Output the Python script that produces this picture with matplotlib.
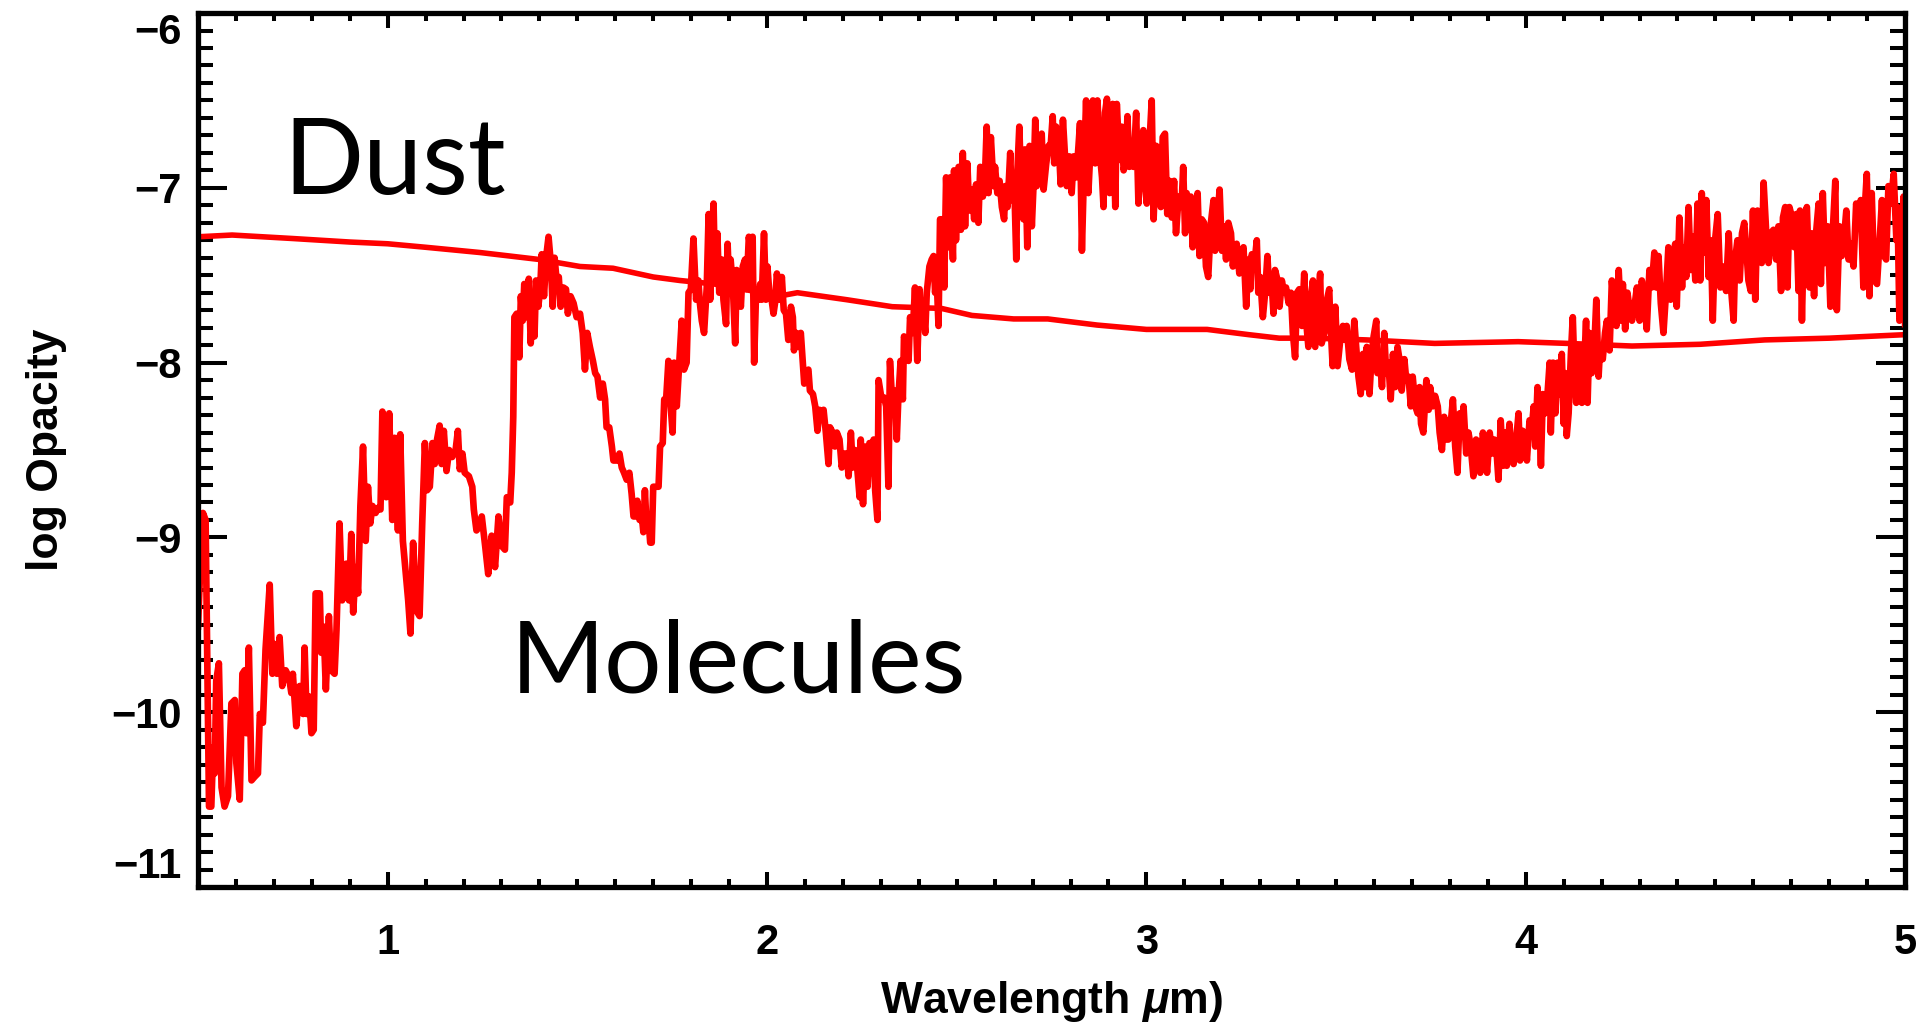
import numpy as np
import matplotlib.pyplot as plt
from matplotlib.ticker import MultipleLocator

# Dust opacity (smooth curve)
dust_wave = [0.50, 0.59, 0.75, 0.90, 1.00, 1.10, 1.243, 1.40, 1.507, 1.594, 1.70, 1.77,
             1.86, 1.95, 2.03, 2.08, 2.21, 2.33, 2.46, 2.54, 2.65, 2.74, 2.87, 3.00,
             3.16, 3.27, 3.35, 3.44, 3.58, 3.76, 3.98, 4.11, 4.28, 4.46, 4.63, 4.80, 5.00]
dust_logk = [-7.28, -7.27, -7.29, -7.31, -7.32, -7.34, -7.37, -7.41, -7.45, -7.46, -7.51, -7.53,
             -7.55, -7.585, -7.62, -7.60, -7.64, -7.68, -7.69, -7.73, -7.75, -7.75, -7.785, -7.81,
             -7.81, -7.84, -7.86, -7.86, -7.87, -7.89, -7.88, -7.89, -7.905, -7.895, -7.87, -7.86, -7.84]

# Molecular opacity (noisy spectrum)
mol_wave = [
    0.500, 0.509, 0.513, 0.520, 0.526, 0.529, 0.535, 0.540, 0.544, 0.548,
    0.555, 0.562, 0.570, 0.579, 0.588, 0.597, 0.601, 0.610, 0.617, 0.623,
    0.627, 0.634, 0.641, 0.649, 0.658, 0.663, 0.671, 0.678, 0.689, 0.696,
    0.702, 0.708, 0.715, 0.722, 0.731, 0.740, 0.746, 0.750, 0.759, 0.768,
    0.777, 0.781, 0.786, 0.793, 0.799, 0.805, 0.810, 0.821, 0.825, 0.831,
    0.837, 0.845, 0.851, 0.860, 0.865, 0.873, 0.880, 0.891, 0.898, 0.904,
    0.909, 0.916, 0.922, 0.928, 0.935, 0.942, 0.948, 0.954, 0.960, 0.968,
    0.975, 0.981, 0.986, 0.996, 1.004, 1.012, 1.018, 1.027, 1.033, 1.040,
    1.047, 1.054, 1.060, 1.067, 1.076, 1.084, 1.091, 1.098, 1.104, 1.111,
    1.118, 1.124, 1.130, 1.137, 1.142, 1.148, 1.155, 1.162, 1.170, 1.179,
    1.185, 1.190, 1.197, 1.203, 1.214, 1.223, 1.227, 1.234, 1.241,
    1.248, 1.257, 1.265, 1.274, 1.283, 1.292, 1.301, 1.309, 1.314, 1.323,
    1.327, 1.331, 1.334, 1.340, 1.347, 1.351, 1.356, 1.360, 1.367, 1.372,
    1.377, 1.382, 1.387, 1.391, 1.397, 1.402, 1.406, 1.412, 1.418, 1.424,
    1.430, 1.435, 1.440, 1.446, 1.451, 1.456, 1.463, 1.470, 1.475, 1.482,
    1.490, 1.498, 1.507, 1.514, 1.520, 1.526, 1.533, 1.541, 1.547, 1.553,
    1.560, 1.567, 1.573, 1.577, 1.584, 1.591, 1.595, 1.604, 1.611, 1.617,
    1.623, 1.630, 1.637, 1.643, 1.648, 1.655, 1.658, 1.664, 1.670, 1.674,
    1.678, 1.683, 1.687, 1.692, 1.696, 1.700, 1.707, 1.714, 1.718, 1.725,
    1.729, 1.734, 1.740, 1.746, 1.751, 1.755, 1.762, 1.769, 1.775, 1.781,
    1.788, 1.793, 1.799, 1.806, 1.813, 1.819, 1.823, 1.828, 1.834, 1.841,
    1.846, 1.850, 1.854, 1.859, 1.863, 1.869, 1.874, 1.881, 1.885, 1.892,
    1.896, 1.901, 1.904, 1.910, 1.916, 1.920, 1.925, 1.931, 1.936, 1.942,
    1.946, 1.952, 1.957, 1.962, 1.966, 1.971, 1.977, 1.982, 1.986, 1.992,
    1.997, 2.001, 2.006, 2.012, 2.017, 2.021, 2.026, 2.033, 2.039, 2.044,
    2.050, 2.056, 2.063, 2.068, 2.071, 2.077, 2.083, 2.089, 2.094, 2.098,
    2.103, 2.109, 2.113, 2.121, 2.127, 2.133, 2.138, 2.144, 2.149, 2.155,
    2.162, 2.166, 2.173, 2.179, 2.184, 2.191, 2.197, 2.203, 2.210, 2.215,
    2.221, 2.226, 2.232, 2.238, 2.244, 2.247, 2.253, 2.259, 2.265, 2.270,
    2.276, 2.281, 2.285, 2.291, 2.294, 2.302, 2.309, 2.314, 2.320, 2.324,
    2.331, 2.337, 2.342, 2.346, 2.352, 2.358, 2.361, 2.368, 2.373, 2.377,
    2.384, 2.390, 2.396, 2.402, 2.405, 2.410, 2.417, 2.421, 2.428,
    2.434, 2.439, 2.443, 2.447, 2.452, 2.456, 2.463, 2.467, 2.472, 2.478,
    2.483, 2.490, 2.493, 2.498, 2.505, 2.511, 2.516, 2.522, 2.528, 2.533,
    2.540, 2.546, 2.551, 2.557, 2.562, 2.569, 2.575, 2.579, 2.584, 2.590,
    2.597, 2.601, 2.607, 2.613, 2.619, 2.625, 2.628, 2.634, 2.641, 2.645,
    2.651, 2.657, 2.660, 2.665, 2.671, 2.676, 2.680, 2.686, 2.692, 2.698,
    2.702, 2.707, 2.711, 2.718, 2.724, 2.729, 2.736, 2.742, 2.748, 2.753,
    2.757, 2.762, 2.768, 2.774, 2.780, 2.786, 2.790, 2.797, 2.803, 2.808,
    2.815, 2.821, 2.825, 2.830, 2.836, 2.841, 2.847, 2.854, 2.859, 2.865,
    2.871, 2.878, 2.883, 2.887, 2.891, 2.896, 2.903, 2.906, 2.911, 2.918,
    2.922, 2.929, 2.935, 2.940, 2.946, 2.950, 2.955, 2.961, 2.966, 2.973,
    2.979, 2.985, 2.992, 2.997, 3.001, 3.008, 3.014, 3.019, 3.026, 3.032,
    3.038, 3.043, 3.049, 3.055, 3.061, 3.067, 3.073, 3.078, 3.085, 3.089,
    3.093, 3.097, 3.102, 3.106, 3.111, 3.117, 3.122, 3.128, 3.135, 3.140,
    3.146, 3.152, 3.157, 3.163, 3.170, 3.177, 3.181, 3.187, 3.193, 3.199,
    3.203, 3.210, 3.216, 3.223, 3.228, 3.234, 3.238, 3.245, 3.249, 3.256,
    3.263, 3.269, 3.274, 3.278, 3.284, 3.291, 3.295, 3.300, 3.307, 3.313,
    3.319, 3.324, 3.331, 3.335, 3.339, 3.346, 3.351, 3.357, 3.363, 3.368,
    3.375, 3.381, 3.386, 3.392, 3.397, 3.403, 3.410, 3.416, 3.421, 3.427,
    3.433, 3.439, 3.445, 3.451, 3.458, 3.462, 3.469, 3.476, 3.482,
    3.484, 3.491, 3.498, 3.504, 3.511, 3.518, 3.524, 3.528, 3.535, 3.542,
    3.548, 3.553, 3.559, 3.565, 3.571, 3.577, 3.581, 3.588, 3.594, 3.599,
    3.606, 3.609, 3.615, 3.621, 3.627, 3.632, 3.638, 3.644, 3.650, 3.656,
    3.662, 3.667, 3.673, 3.680, 3.685, 3.691, 3.697, 3.702, 3.709, 3.715,
    3.720, 3.724, 3.730, 3.738, 3.744, 3.748, 3.755, 3.761, 3.768, 3.773,
    3.779, 3.785, 3.790, 3.796, 3.803, 3.808, 3.814, 3.820, 3.826, 3.832,
    3.836, 3.843, 3.849, 3.855, 3.862, 3.869, 3.876, 3.880, 3.887, 3.893,
    3.898, 3.905, 3.911, 3.917, 3.924, 3.928, 3.934, 3.940, 3.946, 3.950,
    3.957, 3.963, 3.968, 3.975, 3.981, 3.985, 3.992, 3.999, 4.003, 4.010,
    4.016, 4.021, 4.025, 4.031, 4.037, 4.040, 4.045, 4.051, 4.057, 4.063,
    4.066, 4.072, 4.078, 4.084, 4.089, 4.095, 4.100, 4.104, 4.108, 4.113,
    4.119, 4.124, 4.128, 4.133, 4.139, 4.144, 4.148, 4.154, 4.159, 4.163,
    4.168, 4.174, 4.180, 4.186, 4.192, 4.196, 4.203, 4.209, 4.214, 4.221,
    4.227, 4.233, 4.239, 4.245, 4.251, 4.256, 4.262, 4.268, 4.273, 4.280,
    4.284, 4.293, 4.300, 4.306, 4.312, 4.319, 4.326, 4.332, 4.339, 4.344,
    4.350, 4.356, 4.363, 4.370, 4.376, 4.382, 4.388, 4.394, 4.398, 4.405,
    4.412, 4.416, 4.423, 4.429, 4.435, 4.441, 4.447, 4.453, 4.458,
    4.460, 4.464, 4.470, 4.476, 4.482, 4.488, 4.493, 4.499, 4.506, 4.513,
    4.517, 4.521, 4.528, 4.535, 4.541, 4.548, 4.552, 4.558, 4.564, 4.570,
    4.576, 4.581, 4.587, 4.593, 4.599, 4.605, 4.611, 4.618, 4.622, 4.627,
    4.634, 4.640, 4.646, 4.653, 4.660, 4.666, 4.673, 4.678, 4.684, 4.690,
    4.695, 4.702, 4.708, 4.713, 4.719, 4.723, 4.728, 4.734, 4.741, 4.748,
    4.754, 4.760, 4.766, 4.772, 4.778, 4.783, 4.789, 4.796, 4.803, 4.810,
    4.816, 4.820, 4.827, 4.833, 4.840, 4.845, 4.851, 4.857, 4.864, 4.871,
    4.877, 4.883, 4.890, 4.895, 4.899, 4.906, 4.912, 4.919, 4.926, 4.933,
    4.939, 4.945, 4.950, 4.956, 4.962, 4.970, 4.977, 4.980, 4.985, 4.992,
    4.996, 5.000,
]
mol_logk = [
    -9.51, -9.00, -8.86, -8.90, -10.01, -10.54, -10.54, -10.20, -10.35, -9.82,
    -9.72, -10.43, -10.54, -10.48, -9.95, -9.93, -10.29, -10.50, -9.78, -9.76,
    -10.12, -9.63, -10.39, -10.37, -10.35, -10.01, -10.06, -9.64, -9.27, -9.78,
    -9.61, -9.78, -9.57, -9.85, -9.76, -9.80, -9.89, -9.78, -10.08, -9.85,
    -10.01, -9.63, -10.01, -9.91, -10.12, -10.10, -9.32, -9.32, -9.66, -9.51,
    -9.87, -9.45, -9.76, -9.78, -9.53, -8.92, -9.36, -9.15, -9.36, -8.98,
    -9.43, -9.17, -9.32, -8.82, -8.48, -9.02, -8.71, -8.92, -8.82, -8.86,
    -8.83, -8.84, -8.28, -8.77, -8.29, -8.90, -8.43, -8.96, -8.41, -9.02,
    -9.19, -9.36, -9.55, -9.03, -9.42, -9.45, -8.92, -8.46, -8.73, -8.71,
    -8.46, -8.58, -8.44, -8.36, -8.58, -8.39, -8.62, -8.50, -8.54, -8.50,
    -8.39, -8.61, -8.52, -8.63, -8.65, -8.71, -8.84, -8.96, -8.94,
    -8.88, -9.05, -9.21, -8.99, -9.17, -8.88, -9.05, -9.07, -8.77, -8.80,
    -8.63, -8.31, -7.74, -7.72, -7.97, -7.62, -7.76, -7.55, -7.74, -7.52,
    -7.89, -7.70, -7.85, -7.53, -7.68, -7.58, -7.38, -7.62, -7.39, -7.28,
    -7.43, -7.68, -7.40, -7.55, -7.51, -7.68, -7.57, -7.58, -7.72, -7.62,
    -7.66, -7.74, -7.72, -7.83, -8.04, -7.83, -7.91, -7.99, -8.06, -8.08,
    -8.20, -8.12, -8.21, -8.37, -8.37, -8.48, -8.56, -8.56, -8.52, -8.60,
    -8.63, -8.67, -8.63, -8.75, -8.88, -8.88, -8.79, -8.90, -8.88, -8.97,
    -8.73, -8.96, -8.88, -9.03, -9.03, -8.71, -8.71, -8.71, -8.48, -8.46,
    -8.21, -8.21, -7.99, -8.25, -8.40, -8.00, -8.25, -7.99, -7.76, -8.04,
    -8.00, -7.60, -7.58, -7.29, -7.64, -7.53, -7.66, -7.76, -7.83, -7.57,
    -7.15, -7.64, -7.30, -7.09, -7.53, -7.26, -7.60, -7.41, -7.64, -7.78,
    -7.32, -7.60, -7.41, -7.57, -7.89, -7.47, -7.60, -7.68, -7.45, -7.41,
    -7.58, -7.28, -7.36, -7.28, -8.00, -7.60, -7.64, -7.55, -7.64, -7.26,
    -7.64, -7.45, -7.60, -7.64, -7.72, -7.66, -7.49, -7.64, -7.51, -7.70,
    -7.72, -7.87, -7.68, -7.74, -7.93, -7.83, -7.91, -7.83, -7.99, -8.12,
    -8.06, -8.04, -8.16, -8.18, -8.25, -8.39, -8.27, -8.31, -8.27, -8.40,
    -8.58, -8.37, -8.40, -8.48, -8.40, -8.44, -8.60, -8.52, -8.52, -8.65,
    -8.40, -8.60, -8.50, -8.61, -8.77, -8.44, -8.81, -8.48, -8.71, -8.46,
    -8.63, -8.44, -8.73, -8.90, -8.10, -8.21, -8.20, -8.25, -8.71, -7.99,
    -8.27, -8.16, -8.44, -8.21, -7.99, -8.21, -7.85, -7.91, -7.99, -7.74,
    -7.83, -7.57, -7.99, -7.58, -7.74, -7.66, -7.83, -7.60, -7.45,
    -7.41, -7.39, -7.60, -7.51, -7.79, -7.18, -7.18, -7.57, -6.94, -7.34,
    -6.94, -7.41, -6.90, -7.30, -6.88, -7.24, -6.80, -7.22, -6.86, -7.13,
    -7.01, -7.18, -6.98, -7.20, -6.88, -7.05, -6.90, -6.65, -7.03, -6.71,
    -6.99, -6.88, -7.03, -6.96, -7.11, -7.18, -6.99, -7.11, -6.80, -7.07,
    -6.92, -7.41, -6.90, -6.65, -7.07, -7.18, -6.78, -7.34, -6.76, -7.22,
    -7.01, -6.61, -6.99, -6.92, -6.69, -7.01, -6.86, -6.76, -6.75, -6.59,
    -6.86, -6.65, -6.71, -6.98, -6.61, -6.84, -6.99, -6.82, -7.03, -6.82,
    -6.94, -6.76, -6.63, -7.36, -6.86, -6.50, -7.03, -6.71, -6.50, -6.86,
    -6.50, -6.82, -6.94, -7.11, -6.57, -6.49, -7.03, -6.78, -6.52, -7.11,
    -6.52, -6.84, -6.65, -6.90, -6.84, -6.59, -6.88, -6.80, -6.88, -6.57,
    -7.09, -6.82, -6.67, -6.99, -7.09, -6.75, -6.50, -7.18, -6.76, -6.99,
    -7.11, -6.71, -6.69, -7.15, -6.96, -7.17, -6.96, -7.26, -7.05, -7.11,
    -7.09, -6.88, -7.26, -7.03, -7.11, -7.05, -7.34, -7.17, -7.03, -7.39,
    -7.18, -7.20, -7.45, -7.51, -7.20, -7.07, -7.36, -7.18, -7.01, -7.36,
    -7.22, -7.41, -7.20, -7.26, -7.45, -7.34, -7.32, -7.49, -7.38, -7.34,
    -7.68, -7.41, -7.58, -7.38, -7.45, -7.30, -7.60, -7.51, -7.74, -7.60,
    -7.39, -7.60, -7.57, -7.72, -7.47, -7.53, -7.68, -7.53, -7.60, -7.57,
    -7.66, -7.60, -7.83, -7.97, -7.60, -7.58, -7.79, -7.49, -7.76, -7.91,
    -7.64, -7.53, -7.91, -7.72, -7.49, -7.89, -7.83, -7.64, -7.58,
    -7.72, -8.02, -7.68, -8.02, -7.87, -7.79, -7.87, -7.79, -7.98, -8.04,
    -7.76, -7.91, -8.08, -8.18, -7.95, -8.14, -7.91, -8.18, -7.95, -7.85,
    -7.76, -8.06, -7.95, -8.14, -7.83, -8.06, -8.00, -8.21, -7.95, -8.14,
    -7.91, -7.98, -8.16, -7.98, -8.10, -8.08, -8.25, -8.08, -8.25, -8.29,
    -8.14, -8.35, -8.40, -8.10, -8.27, -8.14, -8.25, -8.19, -8.25, -8.40,
    -8.50, -8.31, -8.44, -8.44, -8.33, -8.21, -8.48, -8.63, -8.29, -8.37,
    -8.25, -8.52, -8.40, -8.48, -8.65, -8.44, -8.48, -8.63, -8.40, -8.50,
    -8.63, -8.40, -8.52, -8.44, -8.54, -8.67, -8.33, -8.59, -8.40, -8.59,
    -8.35, -8.52, -8.58, -8.44, -8.29, -8.56, -8.39, -8.44, -8.56, -8.33,
    -8.37, -8.25, -8.48, -8.14, -8.40, -8.59, -8.18, -8.29, -8.19, -8.00,
    -8.40, -8.00, -8.29, -8.00, -8.18, -7.95, -8.35, -8.06, -8.42, -8.29,
    -7.95, -7.74, -8.02, -8.23, -7.91, -8.10, -8.23, -8.02, -7.76, -8.23,
    -7.83, -8.06, -7.95, -7.64, -8.08, -7.91, -7.98, -7.83, -7.76, -7.93,
    -7.53, -7.68, -7.79, -7.47, -7.76, -7.55, -7.81, -7.60, -7.68, -7.76,
    -7.72, -7.57, -7.76, -7.53, -7.64, -7.81, -7.47, -7.57, -7.37, -7.57,
    -7.39, -7.66, -7.83, -7.59, -7.34, -7.64, -7.47, -7.32, -7.68, -7.17,
    -7.57, -7.34, -7.51, -7.11, -7.47, -7.28, -7.53, -7.09, -7.37,
    -7.53, -7.03, -7.37, -7.07, -7.51, -7.30, -7.76, -7.30, -7.15, -7.57,
    -7.49, -7.45, -7.59, -7.26, -7.57, -7.76, -7.41, -7.30, -7.53, -7.26,
    -7.20, -7.34, -7.53, -7.59, -7.13, -7.64, -7.13, -7.37, -7.43, -6.97,
    -7.26, -7.43, -7.26, -7.24, -7.41, -7.22, -7.59, -7.17, -7.11, -7.57,
    -7.11, -7.17, -7.34, -7.15, -7.59, -7.13, -7.76, -7.18, -7.11, -7.57,
    -7.26, -7.62, -7.24, -7.09, -7.55, -7.03, -7.43, -7.22, -7.68, -7.22,
    -6.96, -7.70, -7.22, -7.39, -7.26, -7.13, -7.41, -7.32, -7.45, -7.09,
    -7.18, -7.07, -7.57, -7.07, -6.92, -7.62, -7.03, -7.53, -7.55, -7.30,
    -7.07, -7.39, -7.41, -6.99, -7.09, -6.92, -7.30, -7.11, -7.76, -7.74,
    -7.05, -7.78,
]

xticks = [1, 2, 3, 4, 5]
yticks = [-11, -10, -9, -8, -7, -6]

plt.rcParams['font.family'] = ['Liberation Sans', 'DejaVu Sans']
plt.rcParams['font.weight'] = 'bold'
plt.rcParams['mathtext.fontset'] = 'custom'
plt.rcParams['mathtext.it'] = 'Liberation Sans:italic:bold'
plt.rcParams['mathtext.rm'] = 'Liberation Sans:bold'

fig = plt.figure(figsize=(19.3, 10.27), dpi=100)
ax = fig.add_axes([0.1026, 0.1363, 0.8845, 0.851])

ax.plot(dust_wave, dust_logk, color='#ff0000', lw=4.0)
ax.plot(mol_wave, mol_logk, color='#ff0000', lw=4.8)

ax.set_xlim(0.5, 5)
ax.set_ylim(-11, -6)
ax.set_xticks(xticks)
ax.set_yticks(yticks)
ax.xaxis.set_minor_locator(MultipleLocator(0.1))
ax.yaxis.set_minor_locator(MultipleLocator(0.1))

# IDL-style frame: inward ticks on all four sides, longer on the y axis
for s in ax.spines.values():
    s.set_linewidth(3.8)
ax.tick_params(which='both', direction='in', top=True, right=True, width=2.9)
ax.tick_params(axis='y', which='major', length=21, pad=12, labelsize=30)
ax.tick_params(axis='y', which='minor', length=11)
ax.tick_params(axis='x', which='major', length=11, pad=26, labelsize=30)
ax.tick_params(axis='x', which='minor', length=5.5)

ylabs = ax.get_yticklabels()
ylabs[0].set_va('bottom')
ylabs[-1].set_va('top')

ax.set_xlabel(r'Wavelength $\mu$m)', fontsize=32, fontweight='bold')
ax.xaxis.set_label_coords(0.5, -0.105)
ax.xaxis.label.set_va('top')
ax.set_ylabel('log Opacity', fontsize=32, fontweight='bold')
ax.yaxis.set_label_coords(-0.077, 0.5)

ax.text(0.724, -7.035, 'Dust', family='Lato', fontweight='normal', fontsize=76, va='baseline')
ax.text(1.325, -9.89, 'Molecules', family='Lato', fontweight='normal', fontsize=73, va='baseline')

fig.savefig('out.png', dpi=100)
